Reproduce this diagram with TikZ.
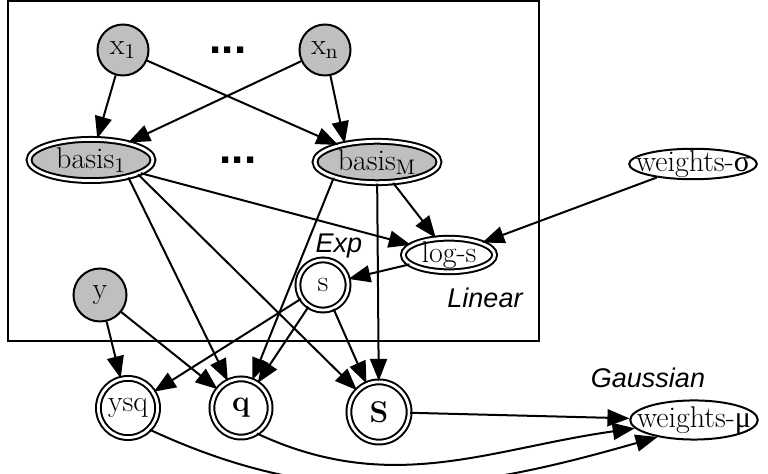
\documentclass[tikz,border=0pt]{standalone}
\usepackage{fontspec}
\usetikzlibrary{arrows.meta, shapes.geometric}
\newfontfamily\labelfont{Liberation Sans}
\newfontfamily\greekfont{Liberation Serif}

\begin{document}
\begin{tikzpicture}[
        x=0.5pt, y=-0.5pt,
        every node/.style={font=\fontsize{15}{18}\selectfont},
        obs/.style={draw, circle, fill=black!25, line width=1pt, inner sep=0pt},
        det/.style={draw, circle, double, double distance=1.4pt, line width=1pt, inner sep=0pt},
        detell/.style={draw, ellipse, double, double distance=1.4pt, line width=1pt},
        param/.style={draw, ellipse, line width=1pt},
        lbl/.style={font=\labelfont\itshape\fontsize{13.5}{16}\selectfont, inner sep=0pt},
        dotrow/.style={font=\labelfont\bfseries\fontsize{22}{22}\selectfont, inner sep=0pt},
        arr/.style={-{Triangle[length=11pt, width=8.5pt]}, line width=1pt}]
    \useasboundingbox (0,0) rectangle (768,474);
    \draw[line width=1pt] (8,1) rectangle (539,341);
    % inputs and basis functions
    \node[obs, minimum size=25.5pt] (x1) at (123,50) {x\textsubscript{1}};
    \node[obs, minimum size=25.5pt] (xn) at (325,50) {x\textsubscript{n}};
    \node[dotrow] (d1) at (228,50) {...};
    \node[detell, fill=black!25, minimum width=62pt, minimum height=19.6pt, inner sep=1pt] (b1) at (91,160) {basis\textsubscript{1}};
    \node[detell, fill=black!25, minimum width=62pt, minimum height=19.6pt, inner sep=1pt] (bM) at (377,162) {basis\textsubscript{M}};
    \node[dotrow] (d2) at (238,160) {...};
    \node[detell, minimum width=45.6pt, inner xsep=0pt, inner ysep=-0.8pt] (logs) at (449,255) {log-s};
    \node[param, inner xsep=-5.9pt, inner ysep=-1.35pt] (wsig) at (693,164) {weights-{\greekfont σ}};
    \node[det, minimum size=25.1pt] (s) at (323,285) {s};
    \node[obs, minimum size=26.5pt] (y) at (100,295) {y};
    % sufficient statistics
    \node[det, minimum size=29.6pt] (ysq) at (128,408) {ysq};
    \node[det, minimum size=29.1pt] (q) at (241,408) {\textbf{q}};
    \node[det, minimum size=30.1pt] (S) at (379,412) {\textbf{S}};
    \node[param, inner xsep=-5.9pt, inner ysep=0.1pt] (wmu) at (694,420) {weights-{\greekfont μ}};
    \node[lbl] (lexp) at (339,246) {Exp};
    \node[lbl] (llin) at (485,298) {Linear};
    \node[lbl] (lgau) at (648,378) {Gaussian};
    \draw[arr] (x1) -- (b1);
    \draw[arr] (x1) -- (bM);
    \draw[arr] (xn) -- (b1);
    \draw[arr] (xn) -- (bM.150);
    \draw[arr] (b1) -- (logs);
    \draw[arr] (b1.-25) -- (q);
    \draw[arr] (b1.-17) -- (S);
    \draw[arr] (bM) -- (logs);
    \draw[arr] (bM.-160) -- (q);
    \draw[arr] (bM) -- (S);
    \draw[arr] (wsig) -- (logs);
    \draw[arr] (logs) -- (s);
    \draw[arr] (s) -- (ysq);
    \draw[arr] (s) -- (q);
    \draw[arr] (s) -- (S);
    \draw[arr] (y) -- (ysq);
    \draw[arr] (y) -- (q);
    \draw[arr] (S) -- (wmu);
    \draw[arr] (q.-58) to[out=-25, in=188] (wmu.188);
    \draw[arr] (ysq.-45) to[out=-25, in=196] (wmu.205);
\end{tikzpicture}
\end{document}
